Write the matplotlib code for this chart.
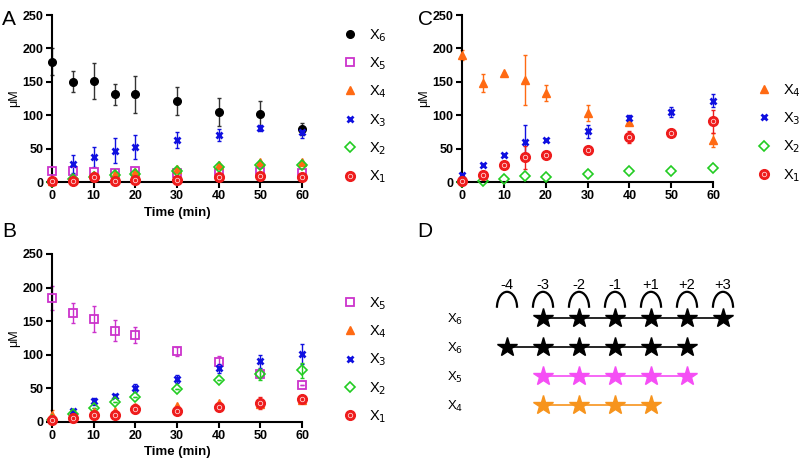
import matplotlib.pyplot as plt
from matplotlib.patches import Arc

plt.rcParams['font.family'] = ['Liberation Sans', 'DejaVu Sans']

time = [0, 5, 10, 15, 20, 30, 40, 50, 60]

# Panel A
a_x6 = [180, 150, 151, 131, 131, 121, 105, 102, 79]
a_x6_err = [20, 16, 27, 16, 28, 21, 21, 19, 9]
a_x5 = [16, 16, 15, 14, 16, 14, 14, 15, 13]
a_x4 = [2, 5, 10, 12, 15, 20, 25, 30, 30]
a_x3 = [2, 27, 38, 47, 52, 63, 70, 81, 75]
a_x3_err = [0, 13, 15, 19, 18, 12, 9, 4, 9]
a_x2 = [0, 4, 7, 10, 12, 17, 22, 26, 26]
a_x1 = [2, 2, 7, 2, 3, 3, 7, 9, 8]

# Panel B
b_x5 = [184, 162, 153, 136, 130, 105, 89, 71, 55]
b_x5_err = [18, 15, 19, 15, 12, 7, 9, 6, 0]
b_x4 = [10, 10, 15, 17, 22, 24, 28, 27, 33]
b_x4_err = [8, 0, 0, 0, 0, 0, 0, 0, 0]
b_x3 = [3, 17, 31, 39, 50, 64, 80, 90, 101]
b_x3_err = [0, 2, 5, 2, 6, 6, 7, 10, 15]
b_x2 = [3, 12, 21, 30, 37, 49, 62, 71, 77]
b_x2_err = [0, 0, 0, 0, 0, 0, 0, 8, 11]
b_x1 = [3, 6, 10, 11, 20, 16, 23, 28, 34]
b_x1_err = [0, 3, 3, 3, 7, 3, 3, 9, 4]

# Panel C
c_x4 = [190, 148, 163, 153, 133, 103, 90, 75, 63]
c_x4_err = [8, 14, 0, 37, 12, 12, 5, 5, 10]
c_x3 = [10, 26, 41, 60, 63, 76, 96, 105, 122]
c_x3_err = [0, 0, 0, 25, 0, 10, 5, 8, 10]
c_x2 = [0, 2, 5, 9, 8, 12, 16, 17, 21]
c_x1 = [1, 11, 25, 37, 40, 48, 68, 73, 91]
c_x1_err = [0, 0, 0, 17, 0, 0, 9, 0, 17]

# Panel D
positions = ['-4', '-3', '-2', '-1', '+1', '+2', '+3']
row_labels = ['X$_6$', 'X$_6$', 'X$_5$', 'X$_4$']
row_start = [1, 0, 1, 1]
row_end = [6, 5, 5, 4]
row_colors = ['black', 'black', '#F54EF5', '#F7941D']

styles = {
    'X6': dict(marker='o', color='black', mfc='black', ms=5.5, mew=1),
    'X5': dict(marker='s', color='#CC33CC', mfc='none', ms=5.5, mew=1.3),
    'X4': dict(marker='^', color='#FF6A13', mfc='#FF6A13', ms=5.5, mew=1),
    'X3': dict(marker='x', color='#1010E0', mfc='#1010E0', ms=4.5, mew=2.0),
    'X2': dict(marker='D', color='#22CC22', mfc='none', ms=5.5, mew=1.2),
    'X1': dict(marker='o', color='#EE1C1C', mfc='#EE1C1C', ms=7, mew=1),
}
err_colors = {'X6': '#333333'}
names = {'X6': 'X$_6$', 'X5': 'X$_5$', 'X4': 'X$_4$', 'X3': 'X$_3$',
         'X2': 'X$_2$', 'X1': 'X$_1$'}


def draw(ax, key, y, err=None):
    st = styles[key]
    if err is not None:
        ax.errorbar(time, y, yerr=err, fmt='none',
                    ecolor=err_colors.get(key, st['color']),
                    elinewidth=1.0, capsize=1.6, capthick=1.0, clip_on=False)
    line, = ax.plot(time, y, ls='none', clip_on=False, zorder=3, **st)
    handle = line
    if key == 'X1':
        dots, = ax.plot(time, y, ls='none', marker='o', mfc='none', mec='#FFD0D0',
                        ms=3.2, mew=0.6, clip_on=False, zorder=4)
        handle = (line, dots)
    return handle


def style_axes(ax, xlabel=True):
    ax.set_xlim(0, 60)
    ax.set_ylim(0, 250)
    ax.set_xticks([0, 10, 20, 30, 40, 50, 60])
    ax.set_yticks([0, 50, 100, 150, 200, 250])
    for s in ['top', 'right']:
        ax.spines[s].set_visible(False)
    for s in ['left', 'bottom']:
        ax.spines[s].set_linewidth(1.5)
    ax.tick_params(direction='out', length=4, width=1.5, labelsize=9, pad=2)
    for lab in ax.get_xticklabels() + ax.get_yticklabels():
        lab.set_fontweight('bold')
    ax.set_ylabel('μM', fontsize=9, labelpad=2)
    if xlabel:
        ax.set_xlabel('Time (min)', fontsize=9.5, fontweight='bold', labelpad=3)


def add_legend(ax, handles, keys, x, y):
    ax.legend(handles, [names[k] for k in keys], loc='upper left',
              bbox_to_anchor=(x, y), bbox_transform=fig.transFigure,
              frameon=False, handlelength=1.0, handletextpad=0.8,
              labelspacing=0.8, borderpad=0, borderaxespad=0, fontsize=10.5)


fig = plt.figure(figsize=(8, 4.63), dpi=100)

# A
ax_a = fig.add_axes([0.065, 0.6069, 0.3125, 0.3607])
h = [draw(ax_a, 'X6', a_x6, a_x6_err), draw(ax_a, 'X5', a_x5),
     draw(ax_a, 'X4', a_x4), draw(ax_a, 'X3', a_x3, a_x3_err),
     draw(ax_a, 'X2', a_x2), draw(ax_a, 'X1', a_x1)]
style_axes(ax_a)
add_legend(ax_a, h, ['X6', 'X5', 'X4', 'X3', 'X2', 'X1'], 0.429, 0.942)

# B
ax_b = fig.add_axes([0.065, 0.0886, 0.3125, 0.3629])
h = [draw(ax_b, 'X5', b_x5, b_x5_err), draw(ax_b, 'X4', b_x4, b_x4_err),
     draw(ax_b, 'X3', b_x3, b_x3_err), draw(ax_b, 'X2', b_x2, b_x2_err),
     draw(ax_b, 'X1', b_x1, b_x1_err)]
style_axes(ax_b)
add_legend(ax_b, h, ['X5', 'X4', 'X3', 'X2', 'X1'], 0.429, 0.363)

# C
ax_c = fig.add_axes([0.5775, 0.6069, 0.314, 0.3607])
h = [draw(ax_c, 'X4', c_x4, c_x4_err), draw(ax_c, 'X3', c_x3, c_x3_err),
     draw(ax_c, 'X2', c_x2), draw(ax_c, 'X1', c_x1, c_x1_err)]
style_axes(ax_c, xlabel=False)
add_legend(ax_c, h, ['X4', 'X3', 'X2', 'X1'], 0.9465, 0.823)

# D
ax_d = fig.add_axes([0.525, 0.0, 0.475, 0.5032])
ax_d.set_xlim(-2.417, 8.139)
ax_d.set_ylim(5.0, -3.03)
ax_d.axis('off')
for i, lab in enumerate(positions):
    ax_d.text(i, -1.15, lab, ha='center', va='center', fontsize=10.5)
    ax_d.add_patch(Arc((i, -0.35), 0.56, 1.1, theta1=180, theta2=360,
                       color='black', lw=1.6))
for r in range(len(row_labels)):
    cols = list(range(row_start[r], row_end[r] + 1))
    ax_d.plot(cols, [r] * len(cols), color=row_colors[r], lw=1.2,
              marker='*', ms=15, mfc=row_colors[r], mec=row_colors[r])
    ax_d.text(-1.45, r + 0.05, row_labels[r], ha='center', va='center', fontsize=9.5)

fig.text(0.003, 0.978, 'A', fontsize=15, va='top')
fig.text(0.003, 0.52, 'B', fontsize=15, va='top')
fig.text(0.522, 0.978, 'C', fontsize=15, va='top')
fig.text(0.522, 0.52, 'D', fontsize=15, va='top')

fig.savefig('out.png', dpi=100)
